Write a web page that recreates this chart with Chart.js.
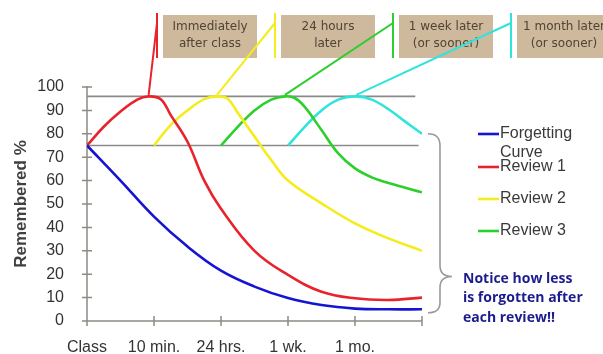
<!DOCTYPE html>
<html><head><meta charset="utf-8">
<script src="https://cdn.jsdelivr.net/npm/chart.js@4/dist/chart.umd.min.js"></script>
<style>html,body{margin:0;padding:0;background:#fff;overflow:hidden}#wrap{width:603px;height:354px;position:relative}</style>
</head><body><div id="wrap"><canvas id="c" width="603" height="354"></canvas></div>
<script>
// ---- data ----
const xLabels = ['Class', '10 min.', '24 hrs.', '1 wk.', '1 mo.', ''];
const yTickValues = [0, 10, 20, 30, 40, 50, 60, 70, 80, 90, 100];

const forgettingX = [0, 0.5, 1, 1.5, 2, 2.5, 3, 3.5, 4, 4.5, 5];
const forgettingY = [75, 60, 44.6, 31.8, 21.5, 14.7, 9.8, 6.8, 5.3, 5, 5];

const review1X = [0, 0.25, 0.5, 0.75, 0.92, 1.1, 1.25, 1.5, 1.75, 2, 2.5, 3, 3.5, 4, 4.5, 5];
const review1Y = [75, 83, 89.5, 94.6, 96, 94.8, 88, 76.6, 60, 48, 30, 19.7, 12.5, 9.7, 9, 10];

const review2X = [1, 1.25, 1.5, 1.75, 1.94, 2.1, 2.25, 2.5, 2.75, 3, 3.5, 4, 4.5, 5];
const review2Y = [75, 83.8, 90, 94.8, 96, 95, 89, 78.8, 68.8, 60, 50.3, 41.7, 35.3, 30];

const review3X = [2, 2.25, 2.5, 2.75, 2.955, 3.1, 3.25, 3.5, 3.75, 4, 4.25, 4.5, 5];
const review3Y = [75, 83, 90, 94.6, 96, 95.3, 91.5, 81.6, 71.6, 65.2, 61.4, 59, 55];

const review4X = [3, 3.25, 3.5, 3.75, 4.02, 4.25, 4.5, 4.75, 5];
const review4Y = [75, 83, 90, 94.6, 96, 94.6, 90.5, 85.2, 80];

const refHighX = [0, 4.9];
const refHighY = [96, 96];
const refLowX = [0, 4.95];
const refLowY = [75, 75];

const seriesNames = ['Forgetting Curve', 'Review 1', 'Review 2', 'Review 3', 'Review 4'];
const legendLines = [['Forgetting', 'Curve'], ['Review 1'], ['Review 2'], ['Review 3']];
const boxLabels = [['Immediately', 'after class'], ['24 hours', 'later'], ['1 week later', '(or sooner)'], ['1 month later', '(or sooner)']];
const noteLines = ['Notice how less', 'is forgotten after', 'each review!!'];
const yTitle = 'Remembered %';

// ---- styles ----
const colors = ['#1414d2', '#e8232b', '#f4ec1c', '#2ccf2c', '#30e4dc'];
const grayRef = '#8a8a8a';
const axisColor = '#8c8c84';
const SANS = '"Liberation Sans", Arial, sans-serif';

const pts = (xs, ys) => xs.map((v, i) => ({x: v, y: ys[i]}));
const seriesX = [forgettingX, review1X, review2X, review3X, review4X];
const seriesY = [forgettingY, review1Y, review2Y, review3Y, review4Y];

const datasets = seriesNames.map((n, i) => ({
  label: n,
  data: pts(seriesX[i], seriesY[i]),
  borderColor: colors[i],
  borderWidth: 2.6,
  pointRadius: 0,
  tension: 0.4,
  fill: false,
  order: 1
}));
datasets.push({label: 'ref96', data: pts(refHighX, refHighY), borderColor: grayRef, borderWidth: 1.6, pointRadius: 0, order: 10});
datasets.push({label: 'ref75', data: pts(refLowX, refLowY), borderColor: grayRef, borderWidth: 1.6, pointRadius: 0, order: 10});

const decor = {
  id: 'decor',
  beforeDatasetsDraw(chart) {
    const {ctx, scales: {x, y}} = chart;
    const x0 = x.getPixelForValue(0), xEnd = x.getPixelForValue(5);
    const y0 = y.getPixelForValue(0), yTop = y.getPixelForValue(100);
    ctx.save();
    ctx.strokeStyle = axisColor;
    ctx.lineWidth = 1.5;
    ctx.beginPath();
    ctx.moveTo(x0, yTop - 1); ctx.lineTo(x0, y0); ctx.lineTo(xEnd, y0);
    yTickValues.forEach(v => { const p = y.getPixelForValue(v); ctx.moveTo(x0 - 5, p); ctx.lineTo(x0 + 5, p); });
    xLabels.forEach((l, i) => { const p = x.getPixelForValue(i); ctx.moveTo(p, y0 - 5); ctx.lineTo(p, y0 + 5); });
    ctx.stroke();
    ctx.restore();
  },
  afterDraw(chart) {
    const {ctx, scales: {x, y}} = chart;
    ctx.save();
    // boxes
    const barX = [157, 275, 393, 511];
    const boxTop = 15, boxH = 43, boxW = 94;
    ctx.textAlign = 'center';
    ctx.textBaseline = 'middle';
    barX.forEach((bx, i) => {
      ctx.fillStyle = '#cfb99d';
      ctx.fillRect(bx + 6, boxTop, boxW, boxH);
      ctx.fillStyle = '#4f4435';
      ctx.font = '12px "DejaVu Sans", Verdana, sans-serif';
      ctx.fillText(boxLabels[i][0], bx + 6 + boxW / 2, boxTop + 12);
      ctx.fillText(boxLabels[i][1], bx + 6 + boxW / 2, boxTop + 29);
    });
    // pointer lines from each review peak
    for (let k = 1; k <= 4; k++) {
      const ys = seriesY[k];
      let mi = 0; ys.forEach((v, j) => { if (v > ys[mi]) mi = j; });
      const px = x.getPixelForValue(seriesX[k][mi]);
      const py = y.getPixelForValue(ys[mi]);
      const bx = barX[k - 1];
      ctx.strokeStyle = colors[k];
      ctx.lineWidth = 2;
      ctx.beginPath();
      ctx.moveTo(px, py - 1.5);
      ctx.lineTo(bx, 23);
      ctx.moveTo(bx, 13);
      ctx.lineTo(bx, 58);
      ctx.stroke();
    }
    // brace
    const bt = y.getPixelForValue(80), bb = y.getPixelForValue(3.5), tipY = y.getPixelForValue(19);
    ctx.strokeStyle = '#9a9a9a';
    ctx.lineWidth = 1.6;
    ctx.beginPath();
    ctx.moveTo(428, bt);
    ctx.quadraticCurveTo(440, bt, 440, bt + 12);
    ctx.lineTo(440, tipY - 11);
    ctx.quadraticCurveTo(440, tipY, 452, tipY);
    ctx.quadraticCurveTo(440, tipY, 440, tipY + 11);
    ctx.lineTo(440, bb - 10);
    ctx.quadraticCurveTo(440, bb, 428, bb);
    ctx.stroke();
    // legend
    const legY = [134, 167, 199, 231];
    ctx.textAlign = 'left';
    ctx.font = '16px ' + SANS;
    legendLines.forEach((lines, i) => {
      ctx.strokeStyle = colors[i];
      ctx.lineWidth = 2.6;
      ctx.beginPath(); ctx.moveTo(478, legY[i]); ctx.lineTo(499, legY[i]); ctx.stroke();
      ctx.fillStyle = '#3a3a3a';
      lines.forEach((t, j) => ctx.fillText(t, 500, legY[i] + j * 19));
    });
    // note
    ctx.fillStyle = '#1c1c8e';
    ctx.font = 'bold 14px "Open Sans", sans-serif';
    noteLines.forEach((t, j) => ctx.fillText(t, 463, 279 + j * 19.5));
    ctx.restore();
  }
};

new Chart(document.getElementById('c'), {
  type: 'line',
  data: {datasets},
  options: {
    responsive: false,
    animation: false,
    events: [],
    layout: {padding: {left: 0, right: 181, top: 87, bottom: 0}},
    plugins: {legend: {display: false}, tooltip: {enabled: false}},
    scales: {
      x: {
        type: 'linear', min: 0, max: 5,
        grid: {display: false}, border: {display: false},
        afterFit: s => { s.height = 33; },
        ticks: {
          stepSize: 1, autoSkip: false, maxRotation: 0, padding: 9,
          color: '#333', font: {family: SANS, size: 16},
          callback: v => xLabels[v] !== undefined ? xLabels[v] : ''
        }
      },
      y: {
        type: 'linear', min: 0, max: 100,
        grid: {display: false}, border: {display: false},
        afterFit: s => { s.width = 87; },
        afterBuildTicks: s => { s.ticks = yTickValues.map(v => ({value: v})); },
        ticks: {padding: 15, color: '#333', font: {family: SANS, size: 16}},
        title: {display: true, text: yTitle, color: '#404040', padding: {top: 11, bottom: 0}, font: {family: SANS, size: 17, weight: 'bold'}}
      }
    }
  },
  plugins: [decor]
});
</script>
</body></html>
